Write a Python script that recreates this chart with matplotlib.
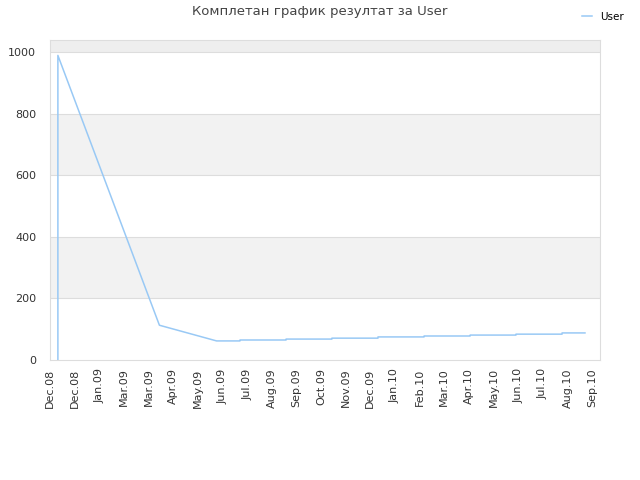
import matplotlib
matplotlib.use("Agg")
import matplotlib.pyplot as plt

# tick labels along the bottom (evenly spaced)
tick_labels = ["Dec.08", "Dec.08", "Jan.09", "Mar.09", "Mar.09", "Apr.09", "May.09",
               "Jun.09", "Jul.09", "Aug.09", "Sep.09", "Oct.09", "Nov.09", "Dec.09",
               "Jan.10", "Feb.10", "Mar.10", "Apr.10", "May.10", "Jun.10", "Jul.10",
               "Aug.10", "Sep.10"]

# series "User": position in tick units, value
user_x = [0.32, 0.32, 4.44, 6.76, 7.71, 7.71, 9.58, 9.58, 11.44, 11.44, 13.31, 13.31,
          15.18, 15.18, 17.05, 17.05, 18.91, 18.91, 20.78, 20.78, 21.71]
user_y = [0, 990, 113, 62, 62, 65, 65, 68, 68, 71, 71, 75,
          75, 78, 78, 81, 81, 84, 84, 88, 88]

fig = plt.figure(figsize=(6.4, 4.8), dpi=100)
ax = fig.add_axes([50 / 640, 0.25, 550 / 640, 320 / 480])

ymax = 1040
# alternating horizontal bands
for lo, hi in [(200, 400), (600, 800)]:
    ax.axhspan(lo, hi, color="#f2f2f2", zorder=0, lw=0)
ax.axhspan(1000, ymax, color="#eeeeee", zorder=0, lw=0)
for yv in range(200, 1001, 200):
    ax.axhline(yv, color="#dddddd", lw=0.8, zorder=1)

ax.plot(user_x, user_y, color="#99c9f5", lw=1.1, zorder=3, label="User")

ax.set_xlim(0, 22.32)
ax.set_ylim(0, ymax)
ax.set_yticks(range(0, 1001, 200))
ax.set_xticks(range(len(tick_labels)))
ax.set_xticklabels(tick_labels, rotation=90, fontsize=8, color="#333333")
ax.tick_params(axis="y", labelsize=8, labelcolor="#333333", length=0, pad=10)
ax.tick_params(axis="x", length=0, pad=6)
for s in ax.spines.values():
    s.set_color("#dddddd")

fig.text(0.5, 0.975, "Комплетан график резултат за User", ha="center", va="center",
         fontsize=9.5, color="#444444")
fig.legend(loc="upper right", bbox_to_anchor=(0.99, 0.995), frameon=False,
           fontsize=7.5, handlelength=1.0, handletextpad=0.8)

fig.savefig("out.png", dpi=100)
